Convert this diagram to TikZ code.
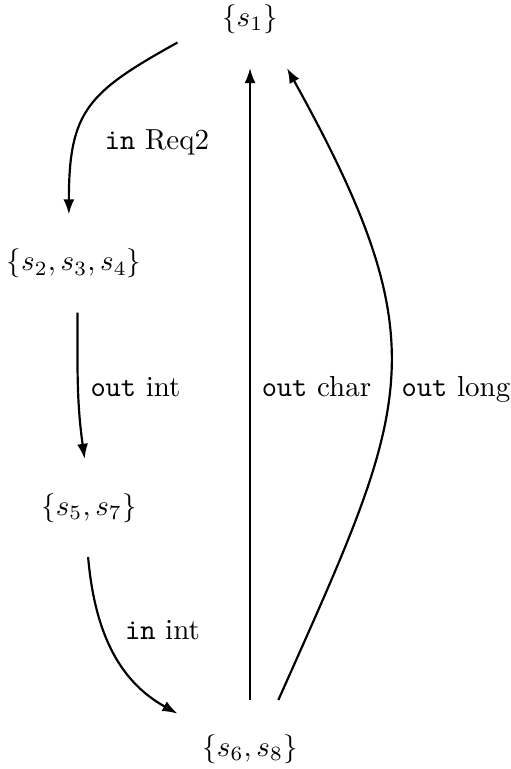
\documentclass[tikz,border=0pt]{standalone}
\usetikzlibrary{arrows.meta}

% Etats invisibles : la boite sert seulement a placer les extremites des fleches
\tikzset{
    etat/.style={minimum width=1.745cm, minimum height=1.175cm, inner sep=0pt},
    trans/.style={->, >={Latex[length=5.2pt, width=3.8pt]}, line width=0.75pt}
}

\begin{document}
\begin{tikzpicture}

            % Cadre fixe de l'image (marges comprises)
            \useasboundingbox (0, 0) rectangle (6.192, 9.319);

            % Les quatre ensembles d'etats
            \node[etat] (s1)   at (3.030, 9.089) {$\{s_1\}$};
            \node[etat] (s234) at (0.897, 6.126) {$\{s_2, s_3, s_4\}$};
            \node[etat] (s57)  at (1.078, 3.163) {$\{s_5, s_7\}$};
            \node[etat] (s68)  at (3.030, 0.242) {$\{s_6, s_8\}$};

            % Etiquettes des transitions
            \node (lreq)  at (1.903, 7.598) {\texttt{in} Req2};
            \node (loint) at (1.642, 4.629) {\texttt{out} int};
            \node (lchar) at (3.835, 4.629) {\texttt{out} char};
            \node (llong) at (5.526, 4.599) {\texttt{out} long};
            \node (liint) at (1.969, 1.681) {\texttt{in} int};

            % Chaine descendante a gauche
            \draw[trans] (s1.198) to[out=209, in=90, looseness=1.3] (s234.96);
            \draw[trans] (s234.274) to[out=-90, in=98] (s57.95);
            \draw[trans] (s57.269) to[out=-85, in=151] (s68.154);

            % Retours vers {s1} : un droit, un courbe vers la droite
            \draw[trans] (s68.north) -- (s1.south);
            \draw[trans] (s68.60) to[out=66, in=-61, looseness=1.3] (s1.307);

\end{tikzpicture}
\end{document}
